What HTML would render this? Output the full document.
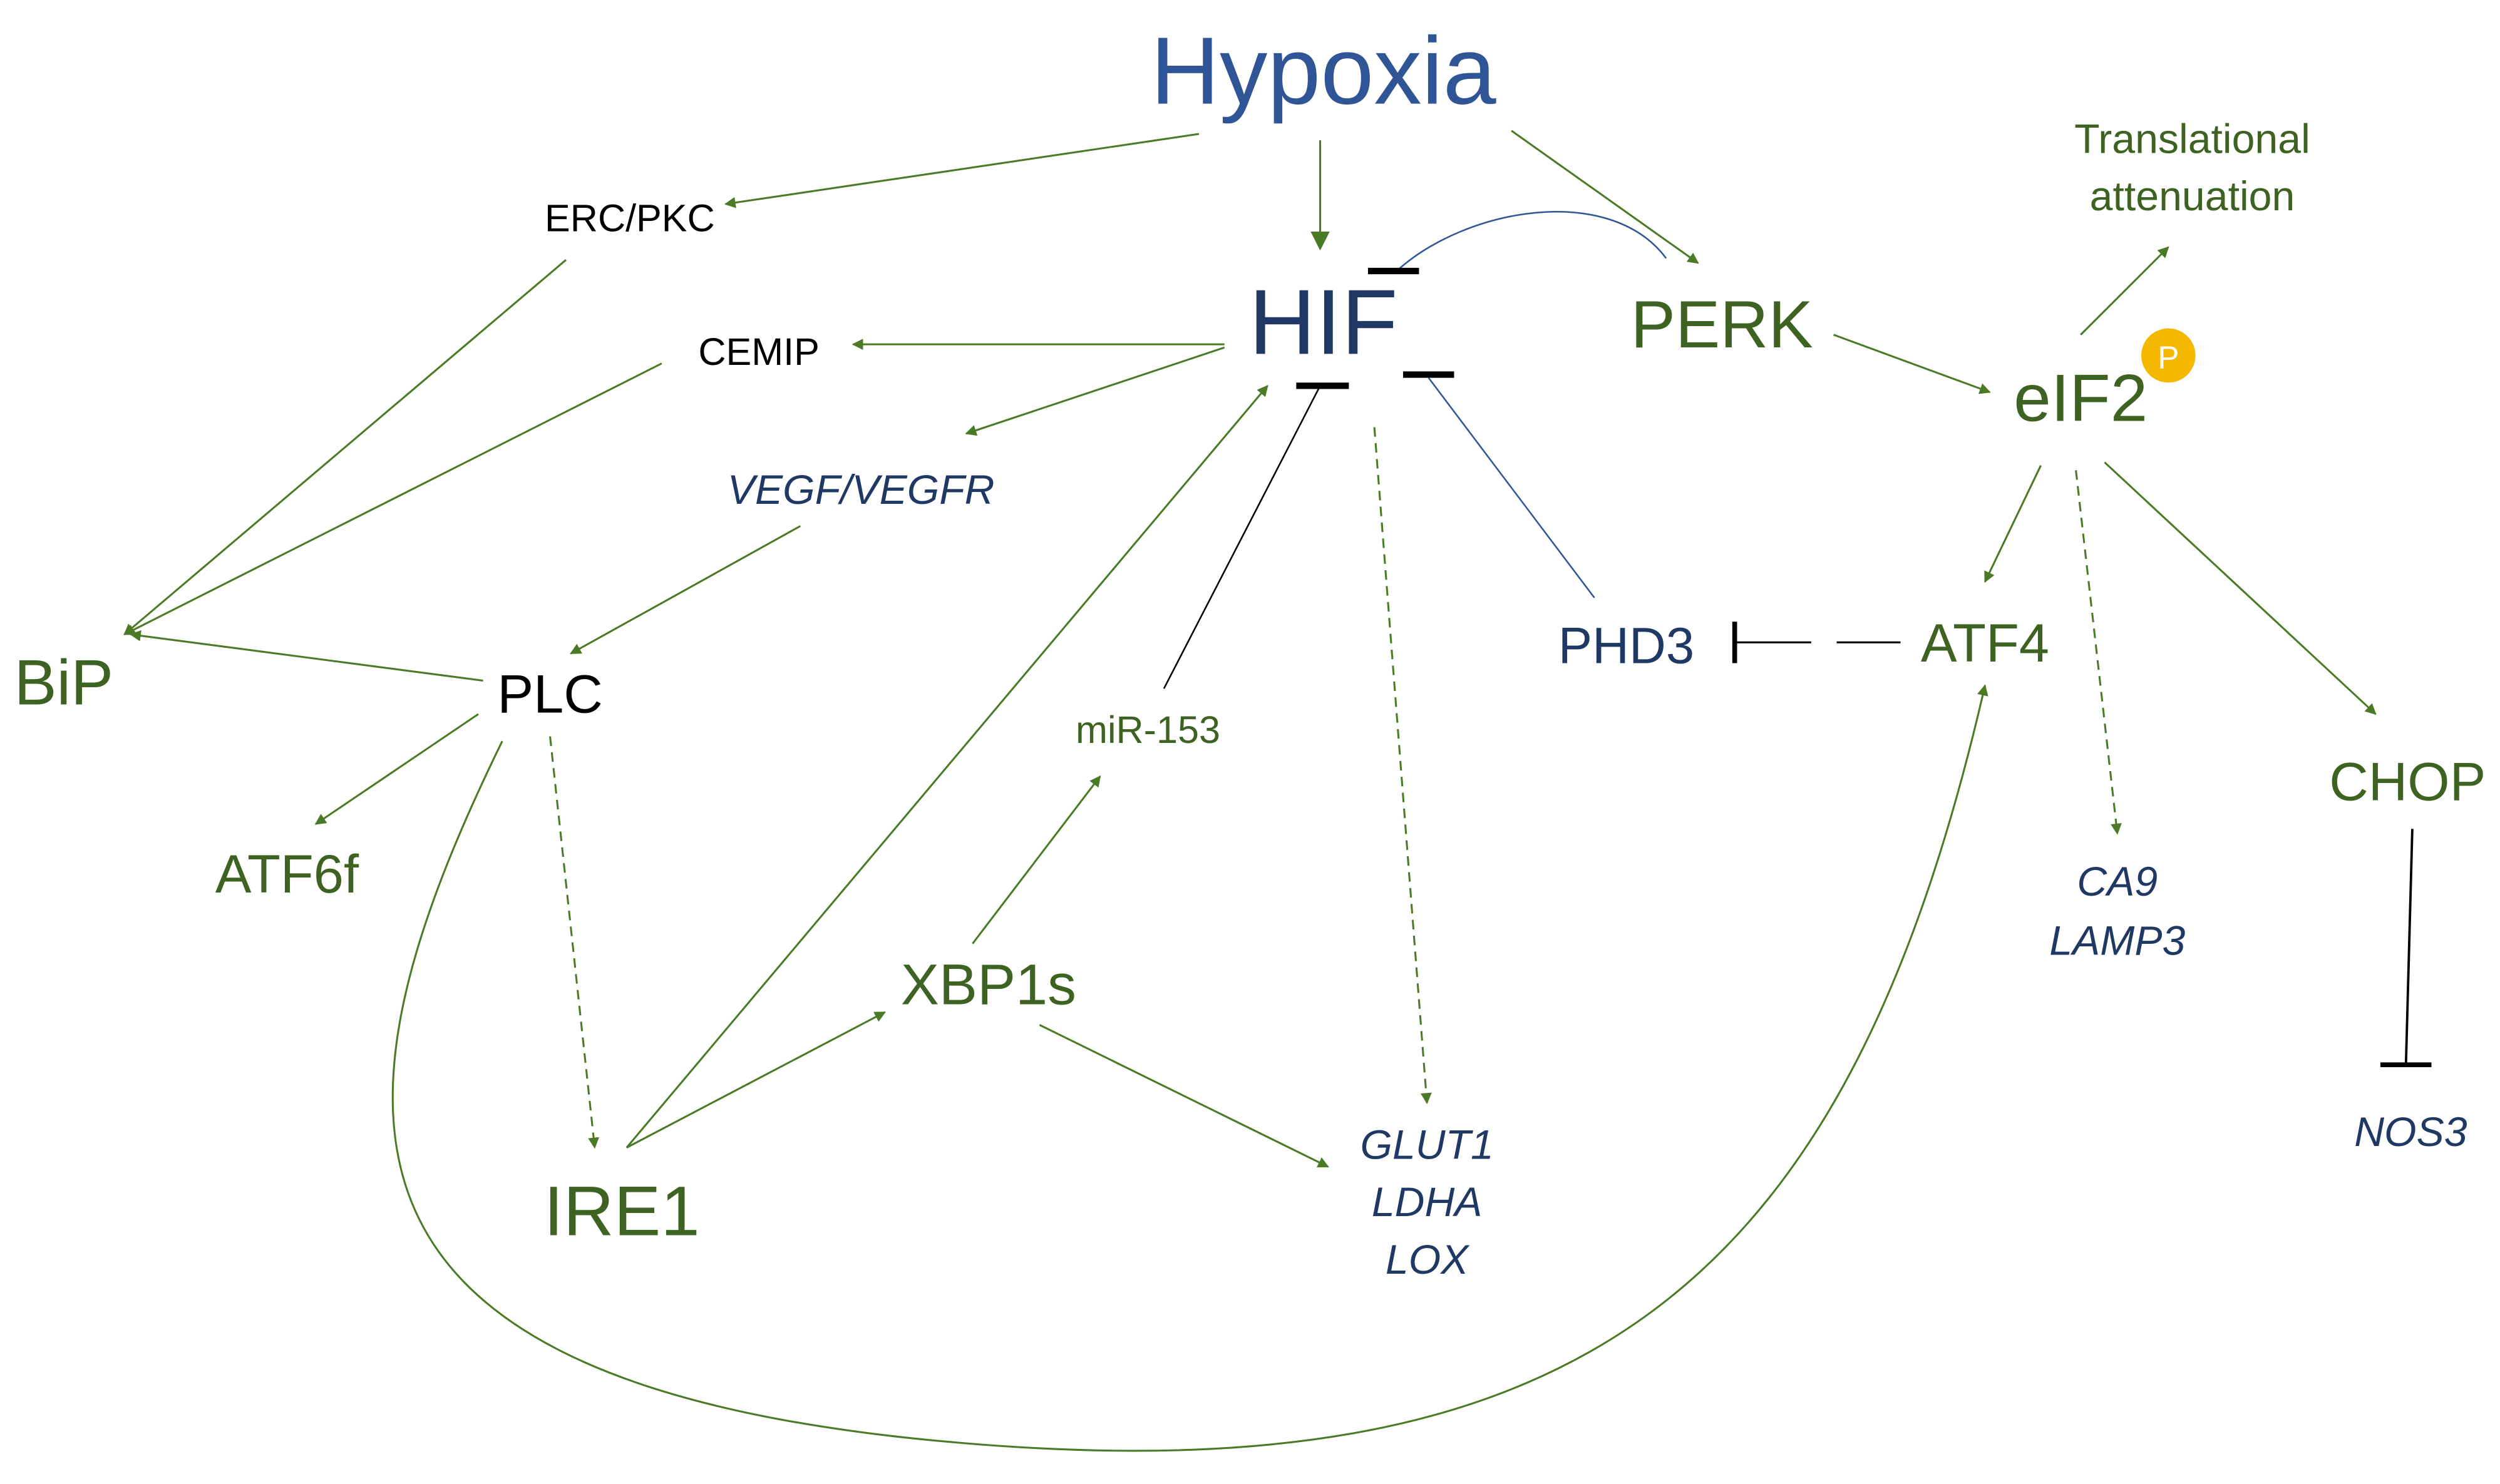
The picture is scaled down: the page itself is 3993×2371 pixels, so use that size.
<!DOCTYPE html>
<html><head><meta charset="utf-8"><style>
html,body{margin:0;padding:0;background:#fff;}
svg{display:block;}
text{font-family:"Liberation Sans",sans-serif;}
.g{fill:#3d6221;}
.b{fill:#1f3864;}
.k{fill:#000;}
.i{font-style:italic;}
.ln{stroke:#4a7a25;stroke-width:1.2;fill:none;}
</style></head><body>
<svg width="3993" height="2371" viewBox="0 0 1568 931" xmlns="http://www.w3.org/2000/svg">
<defs>
<marker id="a" viewBox="0 0 10 10" refX="9" refY="5" markerWidth="7" markerHeight="7" orient="auto" markerUnits="userSpaceOnUse"><path d="M0,0 L10,5 L0,10 z" fill="#4a7a25"/></marker>
<marker id="a2" viewBox="0 0 10 10" refX="9" refY="5" markerWidth="12" markerHeight="12" orient="auto" markerUnits="userSpaceOnUse"><path d="M0,0 L10,5 L0,10 z" fill="#4a7a25"/></marker>
</defs>
<!-- labels -->
<text x="830" y="65" font-size="60" text-anchor="middle" fill="#2f5597">Hypoxia</text>
<text x="395" y="145" font-size="24" text-anchor="middle" class="k">ERC/PKC</text>
<text x="476" y="229" font-size="24" text-anchor="middle" class="k">CEMIP</text>
<text x="540" y="316" font-size="26" text-anchor="middle" class="b i">VEGF/VEGFR</text>
<text x="830" y="222" font-size="58" text-anchor="middle" class="b">HIF</text>
<text x="1080" y="218" font-size="42" text-anchor="middle" class="g">PERK</text>
<text x="1375" y="96" font-size="26" text-anchor="middle" class="g">Translational</text>
<text x="1375" y="132" font-size="26" text-anchor="middle" class="g">attenuation</text>
<text x="1305" y="264" font-size="42" text-anchor="middle" class="g">eIF2</text>
<circle cx="1360" cy="223" r="17" fill="#f5b800"/>
<text x="1360" y="231" font-size="20" text-anchor="middle" fill="#fff">P</text>
<text x="40" y="442" font-size="40" text-anchor="middle" class="g">BiP</text>
<text x="345" y="447" font-size="34" text-anchor="middle" class="k">PLC</text>
<text x="180" y="560" font-size="34" text-anchor="middle" class="g">ATF6f</text>
<text x="720" y="466" font-size="24" text-anchor="middle" class="g">miR-153</text>
<text x="1020" y="416" font-size="32" text-anchor="middle" class="b">PHD3</text>
<text x="1245" y="415" font-size="34" text-anchor="middle" class="g">ATF4</text>
<text x="1510" y="502" font-size="34" text-anchor="middle" class="g">CHOP</text>
<text x="1328" y="562" font-size="26" text-anchor="middle" class="b i">CA9</text>
<text x="1328" y="599" font-size="26" text-anchor="middle" class="b i">LAMP3</text>
<text x="620" y="630" font-size="36" text-anchor="middle" class="g">XBP1s</text>
<text x="390" y="775" font-size="44" text-anchor="middle" class="g">IRE1</text>
<text x="895" y="727" font-size="26" text-anchor="middle" class="b i">GLUT1</text>
<text x="895" y="763" font-size="26" text-anchor="middle" class="b i">LDHA</text>
<text x="895" y="799" font-size="26" text-anchor="middle" class="b i">LOX</text>
<text x="1512" y="719" font-size="26" text-anchor="middle" class="b i">NOS3</text>
<!-- arrows -->
<line class="ln" x1="752" y1="84" x2="455" y2="128" marker-end="url(#a)"/>
<line class="ln" x1="828" y1="88" x2="828" y2="156" stroke-width="2" marker-end="url(#a2)"/>
<line class="ln" x1="948" y1="82" x2="1065" y2="165" marker-end="url(#a)"/>
<line class="ln" x1="355" y1="163" x2="78" y2="398" marker-end="url(#a)"/>
<line class="ln" x1="415" y1="228" x2="78" y2="398" marker-end="url(#a)"/>
<line class="ln" x1="303" y1="427" x2="82" y2="398" marker-end="url(#a)"/>
<line class="ln" x1="768" y1="216" x2="535" y2="216" marker-end="url(#a)"/>
<line class="ln" x1="768" y1="218" x2="606" y2="272" marker-end="url(#a)"/>
<line class="ln" x1="502" y1="330" x2="358" y2="410" marker-end="url(#a)"/>
<line class="ln" x1="300" y1="448" x2="198" y2="517" marker-end="url(#a)"/>
<line class="ln" x1="345" y1="462" x2="373" y2="720" stroke-dasharray="6,4" marker-end="url(#a)"/>
<path class="ln" d="M315,465 C200,700 190,870 600,905 C1000,940 1160,800 1245,430" marker-end="url(#a)"/>
<line class="ln" x1="393" y1="720" x2="795" y2="242" marker-end="url(#a)"/>
<line class="ln" x1="393" y1="720" x2="555" y2="635" marker-end="url(#a)"/>
<line class="ln" x1="610" y1="592" x2="690" y2="487" marker-end="url(#a)"/>
<line class="ln" x1="652" y1="643" x2="833" y2="732" marker-end="url(#a)"/>
<line class="ln" x1="862" y1="268" x2="895" y2="692" stroke-dasharray="6,4" marker-end="url(#a)"/>
<line class="ln" x1="1150" y1="210" x2="1248" y2="246" marker-end="url(#a)"/>
<line class="ln" x1="1305" y1="210" x2="1360" y2="155" marker-end="url(#a)"/>
<line class="ln" x1="1280" y1="292" x2="1245" y2="365" marker-end="url(#a)"/>
<line class="ln" x1="1302" y1="295" x2="1328" y2="523" stroke-dasharray="6,4" marker-end="url(#a)"/>
<line class="ln" x1="1320" y1="290" x2="1490" y2="448" marker-end="url(#a)"/>
<!-- inhibitions -->
<line x1="730" y1="432" x2="828" y2="242" stroke="#000" stroke-width="1"/>
<line x1="813" y1="242" x2="846" y2="242" stroke="#000" stroke-width="4"/>
<line x1="1000" y1="375" x2="896" y2="237" stroke="#2f5597" stroke-width="1"/>
<line x1="880" y1="235" x2="912" y2="235" stroke="#000" stroke-width="4"/>
<path d="M1045,162 C1010,115 920,130 876,170" stroke="#2f5597" stroke-width="1" fill="none"/>
<line x1="858" y1="170" x2="890" y2="170" stroke="#000" stroke-width="4"/>
<line x1="1088" y1="403" x2="1136" y2="403" stroke="#000" stroke-width="1.2"/>
<line x1="1152" y1="403" x2="1192" y2="403" stroke="#000" stroke-width="1.2"/>
<line x1="1088" y1="390" x2="1088" y2="416" stroke="#000" stroke-width="3"/>
<line x1="1513" y1="520" x2="1509" y2="668" stroke="#000" stroke-width="1.5"/>
<line x1="1493" y1="668" x2="1525" y2="668" stroke="#000" stroke-width="3"/>
</svg>
</body></html>
